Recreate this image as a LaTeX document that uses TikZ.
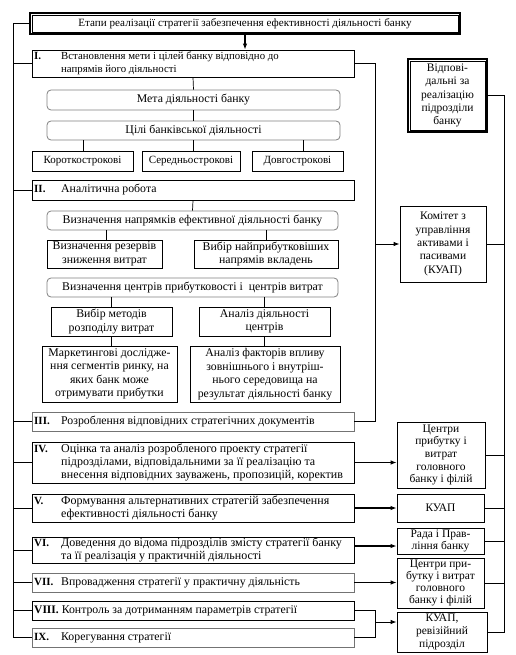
\documentclass[tikz,border=0pt]{standalone}
\usepackage{fontspec}
\setmainfont{Liberation Serif}
\usetikzlibrary{arrows.meta}
\newcommand\myfs{\fontsize{11.8}{13.5}\selectfont}
\newcommand\myfk{\fontsize{11}{13}\selectfont}
\newcommand\myfr{\fontsize{11.5}{13.3}\selectfont}
\newcommand\nm[1]{\makebox[27pt][l]{\fontsize{11}{12}\selectfont\textbf{#1}}}
\newcommand\ind{\hspace*{27pt}}
\newcommand\bx[7]{\node[#1, minimum width={#5-#3}, minimum height={#6-#4}] (#2) at ({(#3+#5)/2},{(#4+#6)/2}) {#7};}
\tikzset{
  box/.style={draw, line width=0.8pt, inner sep=0pt, align=center, font=\myfs},
  gbox/.style={box, draw=black!55},
  rbox/.style={box, draw=black!50, rounded corners=4pt},
  kbox/.style={box, font=\myfk},
  rtbox/.style={box, font=\myfr},
  txt/.style={inner sep=0pt, align=left, font=\myfs, anchor=west},
  arr/.style={-{Latex[length=6pt,width=4.5pt]}, line width=0.9pt},
  ln/.style={line width=0.7pt}
}
\begin{document}
\begin{tikzpicture}[x=1pt,y=-1pt]
\useasboundingbox (0,0) rectangle (515,655);
\coordinate (L) at (13,0);
\coordinate (R) at (375,0);
\coordinate (RB) at (504,0);
% title
\bx{box, line width=2pt}{title}{30}{13}{460}{34}{\fontsize{11.1}{12}\selectfont Етапи реалізації стратегії забезпечення ефективності діяльності банку}
\draw[line width=0.6pt] ([shift={(3,3)}]title.north west) rectangle ([shift={(-3,-3)}]title.south east);
% I
\bx{box}{I}{32}{50}{354}{77}{}
\node[txt, font=\fontsize{10.8}{12.5}\selectfont] (It) at (34,63.5) {\nm{I.}Встановлення мети і цілей банку відповідно до\\\ind напрямів його діяльності};
\bx{rbox}{meta}{47}{90}{340}{110}{Мета діяльності банку}
\bx{rbox}{cili}{47}{121}{340}{140}{Цілі банківської діяльності}
\bx{kbox}{k1}{32}{151}{133}{171}{Короткострокові}
\bx{kbox}{k2}{142}{151}{240}{171}{Середньострокові}
\bx{kbox}{k3}{252}{151}{343}{171}{Довгострокові}
% II
\bx{box}{II}{32}{180}{354}{200}{}
\node[txt] (IIt) at (34,190) {\nm{II.}Аналітична робота};
\bx{rbox}{nap}{47}{211}{338}{230}{Визначення напрямків ефективної діяльності банку}
\bx{box}{rez}{47}{240}{162}{268}{Визначення резервів\\зниження витрат}
\bx{box}{vyb}{194}{240}{338}{268}{Вибір найприбутковіших\\напрямів вкладень}
\bx{rbox}{cent}{47}{278}{338}{297}{Визначення центрів прибутковості і \ центрів витрат}
\bx{box}{met}{51}{307}{172}{336}{Вибір методів\\розподілу витрат}
\bx{box}{anal}{199}{307}{330}{336}{Аналіз діяльності\\центрів}
\bx{box}{mark}{42}{346}{177}{402}{Маркетингові дослідже-\\ння сегментів ринку, на\\яких банк може\\отримувати прибутки}
\bx{box}{fakt}{190}{346}{340}{402}{Аналіз факторів впливу\\зовнішнього і внутріш-\\нього середовища на\\результат діяльності банку}
% III - IX
\bx{gbox}{III}{32}{412}{354}{431}{}
\node[txt] (IIIt) at (34,421.5) {\nm{III.}Розроблення відповідних стратегічних документів};
\bx{box}{IV}{32}{442}{354}{483}{}
\node[txt, font=\fontsize{12}{12.6}\selectfont] (IVt) at (34,462.5) {\nm{IV.}Оцінка та аналіз розробленого проекту стратегії\\\ind підрозділами, відповідальними за її реалізацію та\\\ind внесення відповідних зауважень, пропозицій, коректив};
\bx{box}{V}{32}{494}{354}{522}{}
\node[txt, font=\fontsize{12}{12.6}\selectfont] (Vt) at (34,508) {\nm{V.}Формування альтернативних стратегій забезпечення\\\ind ефективності діяльності банку};
\bx{box}{VI}{32}{537}{354}{563}{}
\node[txt, font=\fontsize{12}{12.6}\selectfont] (VIt) at (34,550) {\nm{VI.}Доведення до відома підрозділів змісту стратегії банку\\\ind та її реалізація у практичній діяльності};
\bx{gbox}{VII}{32}{573}{354}{592}{}
\node[txt] (VIIt) at (34,582.5) {\nm{VII.}Впровадження стратегії у практичну діяльність};
\bx{box}{VIII}{32}{601}{354}{620}{}
\node[txt] (VIIIt) at (34,610.5) {{\fontsize{11.5}{12}\selectfont\textbf{VIII.}} Контроль за дотриманням параметрів стратегії};
\bx{gbox}{IX}{32}{628}{354}{647}{}
\node[txt] (IXt) at (34,637.5) {\nm{IX.}Корегування стратегії};
% right boxes
\bx{rtbox, line width=2pt}{resp}{408}{59}{487}{132}{Відпові-\\дальні за\\реалізацію\\підрозділи\\банку}
\draw[line width=0.7pt] ([shift={(3,3)}]resp.north west) rectangle ([shift={(-3,-3)}]resp.south east);
\bx{rtbox}{kuap1}{400}{206}{486}{282}{Комітет з\\управління\\активами і\\пасивами\\(КУАП)}
\bx{rtbox, font=\fontsize{11.5}{12.6}\selectfont}{centr1}{397}{422}{485}{488}{Центри\\прибутку і\\витрат\\головного\\банку і філій}
\bx{rtbox}{kuap2}{397}{494}{484}{522}{КУАП}
\bx{rtbox, font=\fontsize{11.5}{12.3}\selectfont}{rada}{397}{528}{484}{554}{Рада і Прав-\\ління банку}
\bx{rtbox, font=\fontsize{11.5}{12.3}\selectfont}{centr2}{397}{558}{484}{608}{Центри при-\\бутку і витрат\\головного\\банку і філій}
\bx{rtbox, font=\fontsize{11.5}{12.6}\selectfont}{kuap3}{397}{612}{487}{652}{КУАП,\\ревізійний\\підрозділ}
% connectors
\draw[arr, line width=1.3pt] (title.south) -- (title.south |- I.north);
\draw[ln] (title.west) -- (title.west -| L) -- (IX.west -| L) -- (IX.west);
\foreach \n in {I,II,III,IV,V,VI,VII,VIII} \draw[ln] (\n.west -| L) -- (\n.west);
\draw[ln] (I.south) -- (meta.north);
\draw[ln] (meta.south) -- (cili.north);
\draw[ln] (k1.north -| 83,0) -- (cili.south -| 83,0);
\draw[ln] (k2.north -| 193,0) -- (cili.south -| 193,0);
\draw[ln] (k3.north -| 303,0) -- (cili.south -| 303,0);
\draw[ln] (II.south) -- (nap.north);
\draw[ln] (rez.north -| 106,0) -- (nap.south -| 106,0);
\draw[ln] (vyb.north -| 266,0) -- (nap.south -| 266,0);
\draw[ln] (met.north) -- (cent.south -| met.north);
\draw[ln] (anal.north) -- (cent.south -| anal.north);
\draw[ln] (met.south) -- (mark.north -| met.south);
\draw[ln] (anal.south) -- (fakt.north -| anal.south);
\draw[ln] (I.east) -- (I.east -| R) -- (III.east -| R) -- (III.east);
\draw[arr] (R |- kuap1.west) -- (kuap1.west);
\draw[arr] (IV.east) -- (IV.east -| centr1.west);
\draw[arr, line width=1.3pt] (V.east) -- (V.east -| kuap2.west);
\coordinate (VIa) at ([yshift=4pt]VI.east);
\draw[arr, line width=1.3pt] (VIa) -- (VIa -| rada.west);
\draw[arr] (VII.east) -- (VII.east -| centr2.west);
\draw[ln] (VIII.east) -- (VIII.east -| R) -- (IX.east -| R) -- (IX.east);
\coordinate (Jm) at (375,622);
\draw[arr] (Jm) -- (Jm -| kuap3.west);
\draw[ln] (resp.east) -- (resp.east -| RB) -- (kuap3.east -| RB) -- (kuap3.east);
\foreach \n in {kuap1,centr1,kuap2,rada,centr2} \draw[ln] (\n.east) -- (\n.east -| RB);
\end{tikzpicture}
\end{document}
